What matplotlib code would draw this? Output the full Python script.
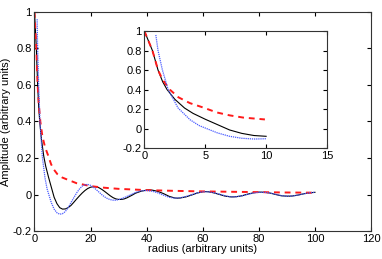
import matplotlib
matplotlib.use("Agg")
import matplotlib.pyplot as plt

plt.rcParams["font.family"] = ["Liberation Sans", "DejaVu Sans"]
plt.rcParams["font.size"] = 8

# black solid curve
r_black = [0, 0.33, 0.66, 1.12, 1.5, 1.86, 2.5, 3.3, 4, 5, 6, 7, 8, 9, 10, 11, 12,
           13, 14, 15, 16, 17, 18, 19, 20, 21, 22, 23, 24, 25, 26, 27, 28, 29, 30,
           31, 32, 33, 34, 35, 36, 38, 40, 41, 42, 44, 46, 48, 50, 51, 52, 54, 56,
           58, 60, 61, 62, 64, 66, 68, 70, 71, 72, 74, 76, 78, 80, 81, 82, 84, 86,
           88, 90, 91, 92, 94, 96, 98, 100]
a_black = [1.0, 0.9, 0.8, 0.6, 0.48, 0.4, 0.3, 0.21, 0.155, 0.095, 0.04, -0.015,
           -0.05, -0.072, -0.08, -0.079, -0.072, -0.06, -0.043, -0.025, -0.008,
           0.008, 0.022, 0.033, 0.04, 0.043, 0.042, 0.037, 0.028, 0.017, 0.005,
           -0.007, -0.017, -0.024, -0.027, -0.027, -0.024, -0.018, -0.01, -0.002,
           0.007, 0.018, 0.024, 0.025, 0.024, 0.017, 0.005, -0.01, -0.019, -0.02,
           -0.019, -0.013, -0.003, 0.008, 0.015, 0.016, 0.015, 0.009, 0.0, -0.009,
           -0.013, -0.013, -0.012, -0.007, 0.002, 0.009, 0.013, 0.013, 0.012,
           0.008, 0.0, -0.007, -0.009, -0.009, -0.008, -0.003, 0.004, 0.009, 0.012]

# blue dotted curve
r_blue = [0.94, 1.12, 1.48, 1.95, 2.77, 3.75, 4.5, 5.4, 6, 7, 8, 9, 10, 11, 12, 13,
          14, 15, 16, 17, 18, 19, 20, 21, 22, 23, 24, 25, 26, 27, 28, 29, 30, 32,
          34, 36, 38, 40, 42, 44, 46, 48, 50, 52, 54, 56, 58, 60, 62, 64, 66, 68,
          70, 72, 74, 76, 78, 80, 82, 84, 86, 88, 90, 92, 94, 96, 98, 100]
a_blue = [0.96, 0.8, 0.6, 0.4, 0.21, 0.09, 0.03, -0.015, -0.045, -0.08, -0.1,
          -0.108, -0.105, -0.093, -0.072, -0.045, -0.018, 0.008, 0.03, 0.046,
          0.054, 0.055, 0.05, 0.04, 0.027, 0.013, -0.001, -0.013, -0.022, -0.028,
          -0.031, -0.031, -0.028, -0.017, -0.003, 0.011, 0.02, 0.022, 0.018, 0.009,
          -0.004, -0.015, -0.02, -0.018, -0.011, -0.001, 0.009, 0.015, 0.015, 0.01,
          0.002, -0.007, -0.013, -0.012, -0.007, 0.001, 0.008, 0.012, 0.012, 0.008,
          0.001, -0.006, -0.009, -0.008, -0.003, 0.004, 0.009, 0.012]

# red dashed curve
r_red = [0, 0.66, 1.12, 1.5, 2.08, 2.8, 3.75, 4.84, 5.94, 7, 8.13, 9.9, 12, 15,
         20, 25, 30, 40, 50, 60, 70, 80, 90, 100]
a_red = [1.0, 0.8, 0.6, 0.5, 0.4, 0.32, 0.26, 0.215, 0.165, 0.135, 0.112, 0.093,
         0.08, 0.062, 0.046, 0.037, 0.031, 0.024, 0.02, 0.017, 0.015, 0.013,
         0.011, 0.01]


def draw(ax, upto=None):
    def cut(r, a):
        if upto is None:
            return r, a
        keep = [i for i, x in enumerate(r) if x <= upto]
        return [r[i] for i in keep], [a[i] for i in keep]
    ax.plot(*cut(r_black, a_black), color="black", lw=0.8)
    ax.plot(*cut(r_red, a_red), color="#ff1a1a", lw=1.4, ls=(0, (3, 2.5)))
    ax.plot(*cut(r_blue, a_blue), color="#4a5cff", lw=0.9, ls=(0, (1, 0.7)))
    ax.tick_params(direction="in", length=3, top=True, right=True, pad=2)
    for s in ax.spines.values():
        s.set_linewidth(0.8)
        s.set_color("#333333")


fig = plt.figure(figsize=(3.82, 2.59), dpi=100)
ax = fig.add_axes([0.0903, 0.108, 0.881, 0.846])
draw(ax)
ax.set_xlim(0, 120)
ax.set_ylim(-0.2, 1)
ax.set_xticks([0, 20, 40, 60, 80, 100, 120])
ax.set_yticks([-0.2, 0, 0.2, 0.4, 0.6, 0.8, 1])
ax.set_yticklabels(["-0.2", "0", "0.2", "0.4", "0.6", "0.8", "1"])
ax.set_xlabel("radius (arbitrary units)", labelpad=0)
ax.set_ylabel("Amplitude (arbitrary units)", labelpad=1)

ins = fig.add_axes([0.378, 0.4286, 0.478, 0.4514])
draw(ins, upto=10)
ins.set_xlim(0, 15)
ins.set_ylim(-0.2, 1)
ins.set_xticks([0, 5, 10, 15])
ins.set_yticks([-0.2, 0, 0.2, 0.4, 0.6, 0.8, 1])
ins.set_yticklabels(["-0.2", "0", "0.2", "0.4", "0.6", "0.8", "1"])

fig.savefig("out.png", dpi=100)
